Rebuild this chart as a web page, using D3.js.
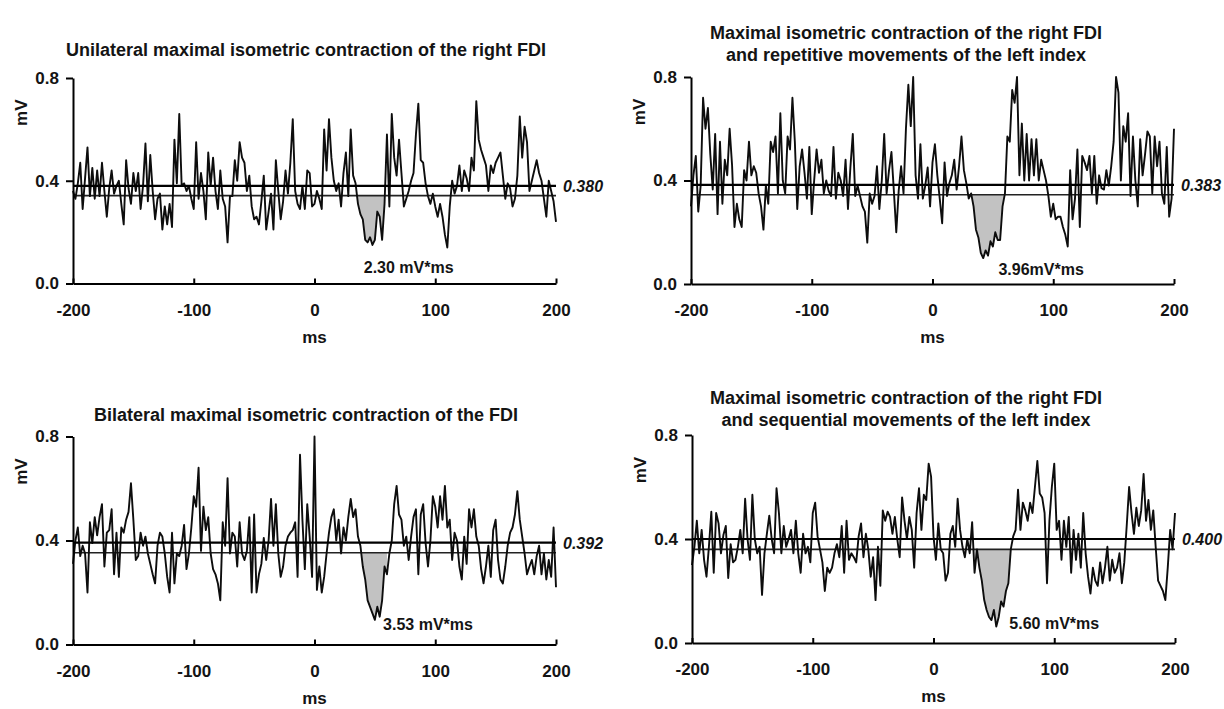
<!DOCTYPE html>
<html>
<head>
<meta charset="utf-8">
<script src="https://cdn.jsdelivr.net/npm/d3@7"></script>
<style>
  body { margin: 0; background: #fff; }
  svg { display: block; background: #fff; }
  text { font-family: "Liberation Sans", Arial, sans-serif; font-weight: bold; fill: #141414; }
</style>
</head>
<body>
<svg id="chart" width="1224" height="709"></svg>
<script>
// Sampling of the averaged rectified EMG traces (ms, step 2 ms)
const timeStart = -200;
const timeStep = 2;
const msTicks = [-200, -100, 0, 100, 200];
const mvTicks = [0, 0.4, 0.8];

const panelTitles = [
  ["Unilateral maximal isometric contraction of the right FDI"],
  ["Maximal isometric contraction of the right FDI", "and repetitive movements of the left index"],
  ["Bilateral maximal isometric contraction of the FDI"],
  ["Maximal isometric contraction of the right FDI", "and sequential movements of the left index"]
];
const meanLevels = [0.380, 0.383, 0.392, 0.400];
const meanLabels = ["0.380", "0.383", "0.392", "0.400"];
const thresholdLevels = [0.342, 0.345, 0.353, 0.360];
const silentStart = [36, 32, 38, 34];
const silentEnd = [58, 60, 60, 66];
const areaLabels = ["2.30 mV*ms", "3.96mV*ms", "3.53 mV*ms", "5.60 mV*ms"];

const emgUnilateral = [
  0.36, 0.33, 0.39, 0.47, 0.29, 0.41, 0.53, 0.34, 0.45, 0.33,
  0.44, 0.34, 0.47, 0.36, 0.26, 0.37, 0.44, 0.35, 0.38, 0.40,
  0.31, 0.23, 0.48, 0.37, 0.31, 0.43, 0.36, 0.43, 0.29, 0.38,
  0.545, 0.32, 0.50, 0.36, 0.25, 0.33, 0.35, 0.21, 0.30, 0.23,
  0.31, 0.22, 0.56, 0.39, 0.66, 0.38, 0.39, 0.36, 0.38, 0.33,
  0.29, 0.55, 0.33, 0.43, 0.36, 0.25, 0.51, 0.38, 0.49, 0.36,
  0.29, 0.44, 0.33, 0.30, 0.16, 0.34, 0.34, 0.48, 0.40, 0.55,
  0.49, 0.47, 0.36, 0.42, 0.30, 0.25, 0.26, 0.23, 0.32, 0.42,
  0.21, 0.28, 0.35, 0.21, 0.48, 0.36, 0.25, 0.32, 0.44, 0.35,
  0.47, 0.64, 0.36, 0.31, 0.29, 0.38, 0.29, 0.44, 0.43, 0.30,
  0.31, 0.36, 0.33, 0.29, 0.60, 0.44, 0.64, 0.49, 0.40, 0.36,
  0.39, 0.30, 0.43, 0.51, 0.34, 0.60, 0.42, 0.39, 0.31, 0.27,
  0.25, 0.17, 0.16, 0.18, 0.15, 0.17, 0.28, 0.26, 0.17, 0.31,
  0.58, 0.30, 0.66, 0.49, 0.42, 0.56, 0.43, 0.30, 0.33, 0.36,
  0.40, 0.43, 0.58, 0.70, 0.48, 0.47, 0.39, 0.34, 0.31, 0.35,
  0.30, 0.26, 0.31, 0.26, 0.19, 0.14, 0.30, 0.40, 0.35, 0.38,
  0.46, 0.36, 0.44, 0.41, 0.36, 0.49, 0.44, 0.71, 0.56, 0.52,
  0.49, 0.46, 0.36, 0.46, 0.43, 0.47, 0.49, 0.51, 0.42, 0.33,
  0.39, 0.37, 0.30, 0.33, 0.42, 0.65, 0.49, 0.61, 0.55, 0.36,
  0.40, 0.44, 0.48, 0.43, 0.40, 0.33, 0.26, 0.40, 0.36, 0.32,
  0.24
];

const emgRepetitive = [
  0.30, 0.42, 0.495, 0.28, 0.38, 0.72, 0.60, 0.68, 0.50, 0.365,
  0.58, 0.27, 0.55, 0.31, 0.48, 0.42, 0.60, 0.46, 0.22, 0.31,
  0.25, 0.22, 0.44, 0.40, 0.55, 0.42, 0.455, 0.43, 0.35, 0.30,
  0.21, 0.38, 0.31, 0.55, 0.51, 0.57, 0.35, 0.66, 0.40, 0.35,
  0.57, 0.52, 0.72, 0.55, 0.29, 0.455, 0.52, 0.43, 0.33, 0.53,
  0.27, 0.40, 0.52, 0.43, 0.48, 0.35, 0.40, 0.36, 0.34, 0.53,
  0.33, 0.43, 0.40, 0.34, 0.48, 0.29, 0.45, 0.58, 0.34, 0.38,
  0.34, 0.30, 0.28, 0.16, 0.35, 0.31, 0.34, 0.455, 0.29, 0.40,
  0.58, 0.35, 0.44, 0.51, 0.36, 0.20, 0.36, 0.455, 0.35, 0.60,
  0.77, 0.61, 0.80, 0.42, 0.33, 0.54, 0.33, 0.38, 0.45, 0.30,
  0.47, 0.54, 0.42, 0.33, 0.235, 0.47, 0.34, 0.39, 0.42, 0.48,
  0.365, 0.455, 0.57, 0.44, 0.39, 0.33, 0.35, 0.30, 0.21, 0.18,
  0.12, 0.10, 0.13, 0.11, 0.165, 0.145, 0.20, 0.17, 0.17, 0.30,
  0.35, 0.57, 0.55, 0.75, 0.70, 0.80, 0.42, 0.62, 0.40, 0.58,
  0.40, 0.56, 0.42, 0.56, 0.40, 0.48, 0.44, 0.40, 0.34, 0.26,
  0.31, 0.25, 0.26, 0.26, 0.22, 0.19, 0.145, 0.44, 0.25, 0.33,
  0.52, 0.22, 0.495, 0.47, 0.44, 0.495, 0.35, 0.495, 0.31, 0.42,
  0.37, 0.365, 0.44, 0.38, 0.455, 0.55, 0.80, 0.74, 0.40, 0.61,
  0.55, 0.66, 0.34, 0.57, 0.40, 0.30, 0.56, 0.42, 0.50, 0.59,
  0.57, 0.35, 0.57, 0.455, 0.55, 0.35, 0.31, 0.53, 0.26, 0.33,
  0.60
];

const emgBilateral = [
  0.31, 0.40, 0.45, 0.34, 0.38, 0.35, 0.20, 0.47, 0.39, 0.49,
  0.42, 0.49, 0.54, 0.30, 0.43, 0.44, 0.52, 0.27, 0.43, 0.26,
  0.45, 0.43, 0.48, 0.51, 0.62, 0.48, 0.325, 0.34, 0.43, 0.38,
  0.415, 0.35, 0.31, 0.27, 0.235, 0.38, 0.43, 0.415, 0.35, 0.26,
  0.20, 0.43, 0.235, 0.35, 0.34, 0.38, 0.46, 0.29, 0.35, 0.45,
  0.57, 0.53, 0.68, 0.36, 0.53, 0.44, 0.49, 0.35, 0.29, 0.27,
  0.235, 0.17, 0.47, 0.38, 0.64, 0.35, 0.43, 0.415, 0.30, 0.47,
  0.35, 0.325, 0.36, 0.49, 0.20, 0.50, 0.20, 0.27, 0.31, 0.41,
  0.325, 0.40, 0.56, 0.38, 0.54, 0.35, 0.26, 0.30, 0.38, 0.415,
  0.43, 0.44, 0.47, 0.26, 0.73, 0.48, 0.29, 0.54, 0.415, 0.26,
  0.80, 0.21, 0.30, 0.20, 0.26, 0.35, 0.43, 0.49, 0.52, 0.40,
  0.48, 0.35, 0.45, 0.40, 0.49, 0.56, 0.49, 0.52, 0.415, 0.38,
  0.30, 0.25, 0.17, 0.145, 0.12, 0.095, 0.145, 0.107, 0.17, 0.30,
  0.27, 0.35, 0.40, 0.54, 0.61, 0.50, 0.48, 0.38, 0.415, 0.325,
  0.415, 0.49, 0.52, 0.27, 0.50, 0.54, 0.39, 0.30, 0.40, 0.57,
  0.53, 0.45, 0.57, 0.48, 0.61, 0.45, 0.48, 0.325, 0.43, 0.40,
  0.30, 0.25, 0.415, 0.31, 0.52, 0.45, 0.52, 0.415, 0.38, 0.29,
  0.235, 0.30, 0.38, 0.26, 0.44, 0.48, 0.325, 0.25, 0.235, 0.30,
  0.38, 0.43, 0.45, 0.50, 0.59, 0.48, 0.415, 0.35, 0.27, 0.30,
  0.325, 0.27, 0.34, 0.38, 0.27, 0.35, 0.25, 0.325, 0.26, 0.45,
  0.22
];

const emgSequential = [
  0.30, 0.37, 0.47, 0.345, 0.435, 0.32, 0.255, 0.37, 0.505, 0.27,
  0.50, 0.46, 0.345, 0.415, 0.45, 0.25, 0.38, 0.31, 0.32, 0.37,
  0.435, 0.345, 0.555, 0.40, 0.32, 0.57, 0.40, 0.345, 0.37, 0.185,
  0.345, 0.42, 0.49, 0.40, 0.345, 0.595, 0.50, 0.345, 0.45, 0.37,
  0.40, 0.435, 0.345, 0.47, 0.345, 0.27, 0.42, 0.345, 0.37, 0.31,
  0.50, 0.54, 0.41, 0.36, 0.31, 0.20, 0.29, 0.27, 0.29, 0.345,
  0.38, 0.33, 0.45, 0.27, 0.47, 0.32, 0.345, 0.33, 0.31, 0.41,
  0.46, 0.33, 0.42, 0.36, 0.255, 0.33, 0.165, 0.37, 0.22, 0.51,
  0.47, 0.505, 0.485, 0.42, 0.485, 0.40, 0.33, 0.56, 0.47, 0.40,
  0.485, 0.435, 0.29, 0.50, 0.595, 0.435, 0.57, 0.55, 0.69, 0.64,
  0.41, 0.32, 0.46, 0.36, 0.345, 0.24, 0.27, 0.42, 0.45, 0.37,
  0.555, 0.435, 0.37, 0.33, 0.40, 0.345, 0.465, 0.27, 0.36, 0.29,
  0.24, 0.165, 0.127, 0.10, 0.088, 0.127, 0.063, 0.10, 0.16, 0.14,
  0.20, 0.23, 0.36, 0.41, 0.435, 0.59, 0.435, 0.54, 0.51, 0.47,
  0.54, 0.50, 0.60, 0.70, 0.575, 0.56, 0.50, 0.23, 0.47, 0.60,
  0.69, 0.435, 0.47, 0.32, 0.47, 0.37, 0.485, 0.27, 0.435, 0.32,
  0.42, 0.29, 0.50, 0.345, 0.255, 0.19, 0.29, 0.24, 0.22, 0.31,
  0.23, 0.29, 0.37, 0.24, 0.32, 0.27, 0.29, 0.345, 0.23, 0.31,
  0.45, 0.60, 0.50, 0.42, 0.52, 0.45, 0.51, 0.65, 0.47, 0.55,
  0.435, 0.51, 0.37, 0.24, 0.22, 0.20, 0.165, 0.29, 0.435, 0.36,
  0.50
];

const traces = [emgUnilateral, emgRepetitive, emgBilateral, emgSequential];

// Panel geometry (pixels) and annotation anchors (data units)
const layout = [
  { x0: 73,  x1: 556,  y0: 283.5, y1: 78,    titleX: 306, titleY: [50],       mvX: 21,  labelT: 78,  labelV: 0.064 },
  { x0: 691, x1: 1174, y0: 284,   y1: 77,    titleX: 906, titleY: [33, 55],   mvX: 639, labelT: 90,  labelV: 0.058 },
  { x0: 73,  x1: 556,  y0: 644.5, y1: 436.5, titleX: 306, titleY: [415],      mvX: 21,  labelT: 94,  labelV: 0.079 },
  { x0: 692, x1: 1175, y0: 643,   y1: 435,   titleX: 906, titleY: [398, 420], mvX: 640, labelT: 100, labelV: 0.077 }
];

const svg = d3.select("#chart");

traces.forEach((values, k) => {
  const L = layout[k];
  const x = d3.scaleLinear().domain([-200, 200]).range([L.x0, L.x1]);
  const y = d3.scaleLinear().domain([0, 0.8]).range([L.y0, L.y1]);
  const pts = values.map((v, i) => ({ t: timeStart + i * timeStep, v }));
  const g = svg.append("g");

  // silent-period area between the threshold line and the trace
  const clipId = "silent-" + k;
  g.append("clipPath").attr("id", clipId).append("rect")
    .attr("x", x(silentStart[k]))
    .attr("width", x(silentEnd[k]) - x(silentStart[k]))
    .attr("y", y(thresholdLevels[k]))
    .attr("height", y(0) - y(thresholdLevels[k]));
  g.append("path").datum(pts)
    .attr("clip-path", `url(#${clipId})`)
    .attr("fill", "#c2c2c2")
    .attr("d", d3.area().x(d => x(d.t)).y0(y(thresholdLevels[k])).y1(d => y(d.v)));

  // threshold background level
  g.append("line")
    .attr("x1", x(-200)).attr("x2", x(200))
    .attr("y1", y(thresholdLevels[k])).attr("y2", y(thresholdLevels[k]))
    .attr("stroke", "#222").attr("stroke-width", 1.6);

  // EMG trace
  g.append("path").datum(pts)
    .attr("fill", "none")
    .attr("stroke", "#0d0d0d")
    .attr("stroke-width", 1.9)
    .attr("stroke-linejoin", "round")
    .attr("d", d3.line().x(d => x(d.t)).y(d => y(d.v)));

  // mean background level
  g.append("line")
    .attr("x1", x(-200)).attr("x2", x(200))
    .attr("y1", y(meanLevels[k])).attr("y2", y(meanLevels[k]))
    .attr("stroke", "#000").attr("stroke-width", 2.2);

  // axes
  const xAxis = g.append("g")
    .attr("transform", `translate(0,${L.y0})`)
    .call(d3.axisBottom(x).tickValues(msTicks).tickFormat(d => String(d))
      .tickSizeInner(-5).tickSizeOuter(0).tickPadding(20));
  const yAxis = g.append("g")
    .attr("transform", `translate(${L.x0},0)`)
    .call(d3.axisLeft(y).tickValues(mvTicks).tickFormat(d3.format(".1f"))
      .tickSizeInner(7).tickSizeOuter(0).tickPadding(7));
  [xAxis, yAxis].forEach(a => {
    a.select(".domain").attr("stroke", "#000").attr("stroke-width", 2);
    a.selectAll(".tick line").attr("stroke", "#000").attr("stroke-width", 2);
    a.selectAll(".tick text")
      .attr("fill", "#141414")
      .style("font-family", '"Liberation Sans", Arial, sans-serif')
      .style("font-weight", "bold")
      .style("font-size", "17px");
  });

  // axis titles
  g.append("text")
    .attr("x", (L.x0 + L.x1) / 2).attr("y", L.y0 + 59)
    .attr("text-anchor", "middle").style("font-size", "17px")
    .text("ms");
  g.append("text")
    .attr("transform", `translate(${L.mvX + 6},${y(0.665)}) rotate(-90)`)
    .attr("text-anchor", "middle").style("font-size", "17px")
    .text("mV");

  // panel title
  panelTitles[k].forEach((line, j) => {
    g.append("text")
      .attr("x", L.titleX).attr("y", L.titleY[j] + 6)
      .attr("text-anchor", "middle").style("font-size", "18px")
      .text(line);
  });

  // mean value and silent-period area labels
  g.append("text")
    .attr("x", x(200) + 7).attr("y", y(meanLevels[k]) + 6)
    .style("font-size", "16px").style("font-style", "italic")
    .text(meanLabels[k]);
  g.append("text")
    .attr("x", x(L.labelT)).attr("y", y(L.labelV) + 6)
    .attr("text-anchor", "middle").style("font-size", "16px")
    .text(areaLabels[k]);
});
</script>
</body>
</html>
